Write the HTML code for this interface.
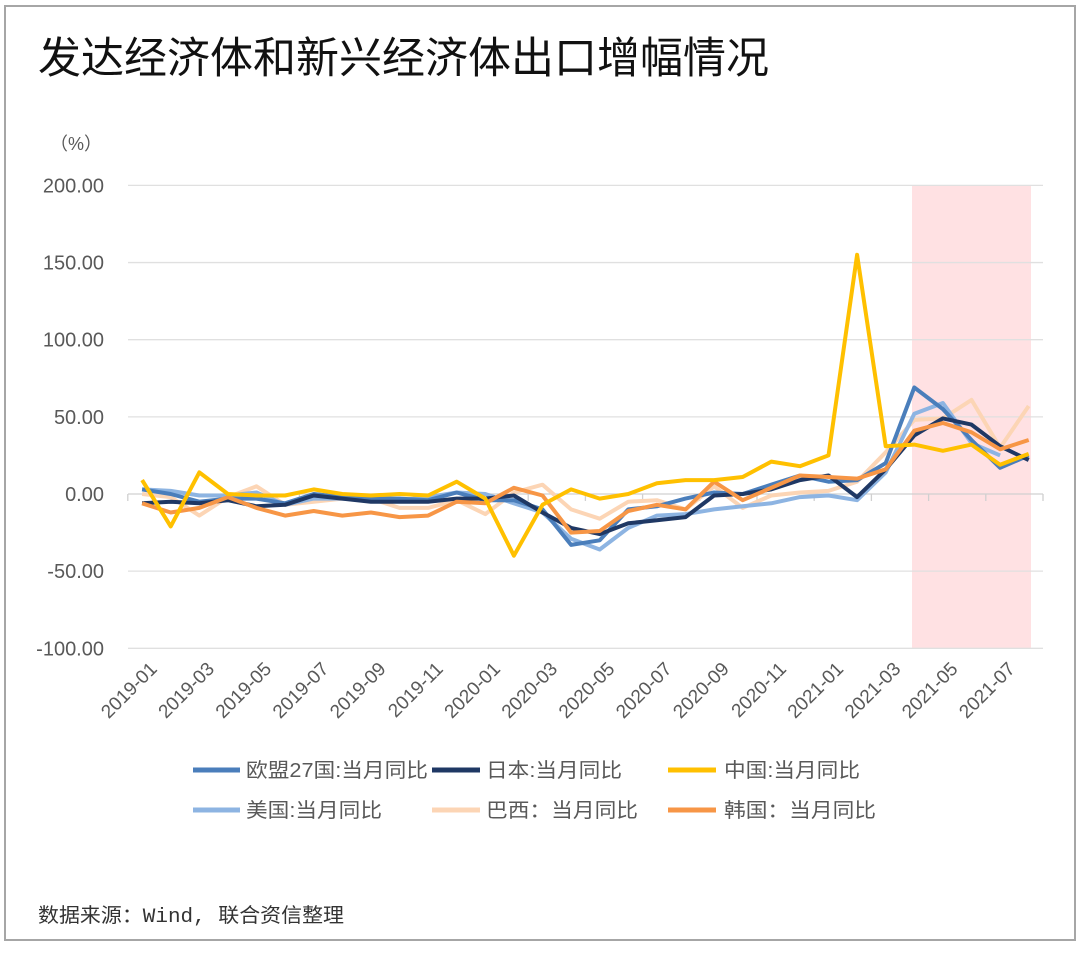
<!DOCTYPE html>
<html><head><meta charset="utf-8"><style>
body{margin:0;background:#fff;width:1080px;height:952px;overflow:hidden;font-family:"Liberation Sans","Noto Sans CJK SC",sans-serif;}
</style></head><body>
<svg id="s" width="1080" height="952" xmlns="http://www.w3.org/2000/svg" font-family="Liberation Sans, Noto Sans CJK SC, sans-serif">
<rect x="5" y="6" width="1070" height="934" fill="#fff" stroke="#a6a6a6" stroke-width="2"/>
<text x="38" y="73" font-size="43" fill="#111">发达经济体和新兴经济体出口增幅情况</text>
<text x="50" y="150" font-size="18" fill="#595959">（%）</text>
<rect x="912" y="186" width="119" height="462" fill="#ffe1e3"/>
<g id="grid"></g>
<g id="lines" fill="none" stroke-width="4" stroke-linejoin="round"></g>
<g font-size="19" fill="#595959" id="xl"></g>
<g font-size="20" fill="#595959">
<line x1="193" y1="770" x2="240" y2="770" stroke="#4a7ebb" stroke-width="5"/><text x="246" y="777" textLength="182" lengthAdjust="spacingAndGlyphs">欧盟27国:当月同比</text>
<line x1="432" y1="770" x2="480" y2="770" stroke="#1f3864" stroke-width="5"/><text x="486" y="777" textLength="136" lengthAdjust="spacingAndGlyphs">日本:当月同比</text>
<line x1="668" y1="770" x2="716" y2="770" stroke="#ffc000" stroke-width="5"/><text x="724" y="777" textLength="136" lengthAdjust="spacingAndGlyphs">中国:当月同比</text>
<line x1="193" y1="810" x2="240" y2="810" stroke="#8db4e2" stroke-width="5"/><text x="246" y="817" textLength="136" lengthAdjust="spacingAndGlyphs">美国:当月同比</text>
<line x1="432" y1="810" x2="480" y2="810" stroke="#fcd5b5" stroke-width="5"/><text x="486" y="817" textLength="152" lengthAdjust="spacingAndGlyphs">巴西：当月同比</text>
<line x1="668" y1="810" x2="716" y2="810" stroke="#f79646" stroke-width="5"/><text x="724" y="817" textLength="152" lengthAdjust="spacingAndGlyphs">韩国：当月同比</text>
</g>
<text x="38" y="922" font-size="20" fill="#333" textLength="306" lengthAdjust="spacingAndGlyphs" font-family="Liberation Mono, Noto Sans CJK SC, monospace">数据来源：Wind, 联合资信整理</text>
</svg>
<script>
var NS="http://www.w3.org/2000/svg",s=document.getElementById('s');
function Y(v){return 494-1.543*v}
function X(i){return 142.1+28.6*i}
function el(p,t,a,txt){var e=document.createElementNS(NS,t);for(var k in a)e.setAttribute(k,a[k]);if(txt)e.textContent=txt;p.appendChild(e);return e}
var g=document.getElementById('grid');
[200,150,100,50,0,-50,-100].forEach(function(v){
 el(g,'line',{x1:128,x2:1043,y1:Y(v),y2:Y(v),stroke:v==0?'#d0d0d0':'#e0e0e0','stroke-width':1.3});
 el(g,'text',{x:104,y:Y(v)+7,'font-size':20,fill:'#595959','text-anchor':'end'},v.toFixed(2));
});
for(var i=0;i<=32;i+=2){el(g,'line',{x1:127.8+28.6*i,x2:127.8+28.6*i,y1:494,y2:501,stroke:'#d0d0d0','stroke-width':1.3})}
var xl=document.getElementById('xl');
var labs=[];for(var i=0;i<32;i+=2){var y=2019+Math.floor(i/12),m=i%12+1;labs.push([i,y+'-'+(m<10?'0':'')+m])}
labs.forEach(function(l){var x=X(l[0])+16,y=670;el(xl,'text',{x:x,y:y,'text-anchor':'end',transform:'rotate(-45 '+x+' '+y+')'},l[1])});
var D=[
['#fcd5b5',[0,-2,-14,-2,5,-7,-5,-3,-3,-9,-9,-4,-13,1,6,-10,-16,-5,-4,-10,5,-9,-1,1,2,8,27,48,49,61,30,57]],
['#8db4e2',[3,2,-1,-1,1,-7,-3,-3,-4,-4,-2,1,0,-6,-12,-29,-36,-22,-14,-13,-10,-8,-6,-2,-1,-4,14,52,59,33,25]],
['#4a7ebb',[3,0,-5,-3,-3,-6,0,-2,-3,-3,-4,1,-4,-4,-10,-33,-30,-10,-8,-3,1,0,6,12,8,9,20,69,55,35,17,25]],
['#1f3864',[-6,-5,-6,-4,-8,-7,-1,-3,-5,-5,-5,-3,-3,-1,-12,-22,-26,-19,-17,-15,-1,-0,3,9,12,-2,16,38,49,45,31,22]],
['#f79646',[-6,-12,-9,-2,-9,-14,-11,-14,-12,-15,-14,-5,-6,4,-1,-25,-24,-11,-7,-10,8,-4,4,12,11,10,16,41,46,40,29,35]],
['#ffc000',[9,-21,14,0,-1,-1,3,0,-1,0,-1,8,-3,-40,-7,3,-3,0,7,9,9,11,21,18,25,155,31,32,28,32,19,26]]
];
var L=document.getElementById('lines');
D.forEach(function(d){el(L,'polyline',{stroke:d[0],points:d[1].map(function(v,i){return X(i).toFixed(1)+','+Y(v).toFixed(1)}).join(' ')})});
</script>
</body></html>
